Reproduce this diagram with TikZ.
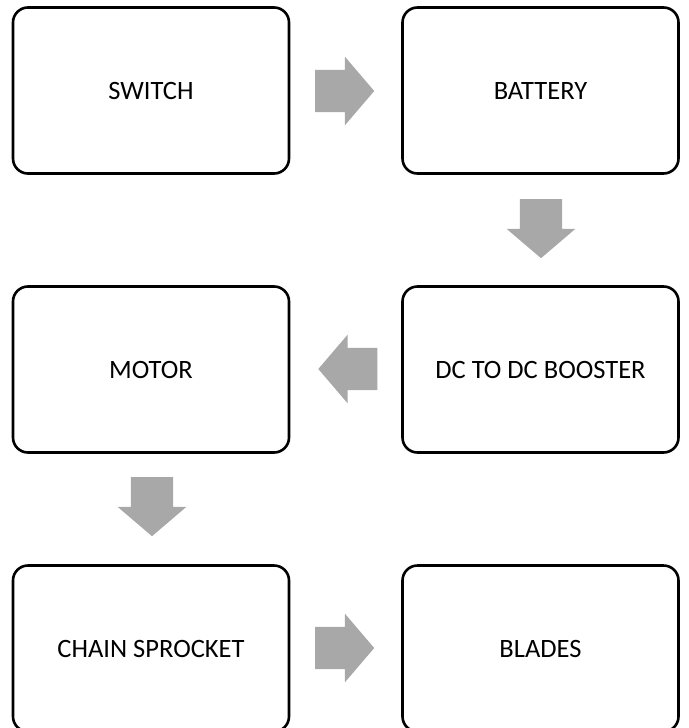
\documentclass[tikz,border=0pt]{standalone}
\usepackage{fontspec}
\setmainfont{Carlito}
\usetikzlibrary{shapes.arrows}

\tikzset{
  block/.style={draw,line width=2.6pt,rounded corners=15pt,minimum width=276pt,minimum height=166pt,inner sep=0pt,font=\fontsize{26.5}{30}\selectfont},
  garrow/.style={single arrow,fill=arrowgray,draw=none,inner sep=0pt,minimum height=59pt,single arrow head extend=13pt,single arrow tip angle=99,anchor=tail}
}
\definecolor{arrowgray}{HTML}{A8A8A8}
\newcommand{\shaft}{\rule{0pt}{42pt}}

\begin{document}
\begin{tikzpicture}[x=1pt,y=-1pt]
\useasboundingbox (0,0) rectangle (688,728);
\node[block] (sw) at (151,90.5) {SWITCH};
\node[block] (bat) at (540.5,90.5) {BATTERY};
\node[block] (dc) at (540.5,369.5) {DC TO DC BOOSTER};
\node[block] (mot) at (151,369.5) {MOTOR};
\node[block] (ch) at (151,648.5) {CHAIN SPROCKET};
\node[block] (bl) at (540.5,648.5) {BLADES};
\node[garrow] (a1) at (315,91) {\shaft};
\node[garrow,rotate=-90] (a2) at (541,199) {\shaft};
\node[garrow,rotate=180] (a3) at (377.5,369) {\shaft};
\node[garrow,rotate=-90] (a4) at (152,477) {\shaft};
\node[garrow] (a5) at (315,648) {\shaft};
\end{tikzpicture}
\end{document}
